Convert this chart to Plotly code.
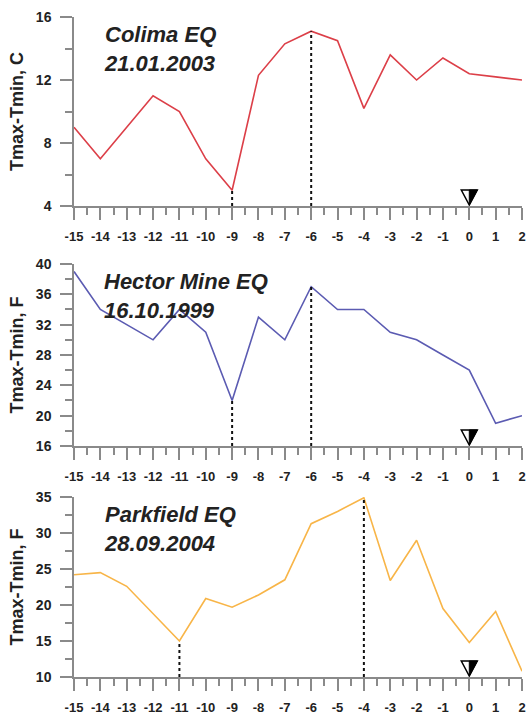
import plotly.graph_objects as go

days = list(range(-15, 3))
day_labels = [str(d) for d in days]
colima = [9, 7, 9, 11, 10, 7, 5, 12.3, 14.3, 15.1, 14.5, 10.2, 13.6, 12.0, 13.4, 12.4, 12.2, 12.0]
hector = [39, 34, 32, 30, 34, 31, 22, 33, 30, 37, 34, 34, 31, 30, 28, 26, 19, 20]
parkfield = [24.2, 24.5, 22.6, 18.8, 15.0, 20.9, 19.7, 21.4, 23.5, 31.3, 33.0, 34.9, 23.4, 29.0, 19.5, 14.8, 19.1, 10.8]

titles = ["Colima EQ<br>21.01.2003", "Hector Mine EQ<br>16.10.1999", "Parkfield EQ<br>28.09.2004"]
ylabels = ["Tmax-Tmin, C", "Tmax-Tmin, F", "Tmax-Tmin, F"]
yranges = [[4, 16], [16, 40], [10, 35]]
ydticks = [4, 4, 5]
marks = [[-9, -6], [-9, -6], [-11, -4]]
event_day = 0
colors = ["#dc3f48", "#5b5bb2", "#f8b548"]
series = [colima, hector, parkfield]

# panel domains (paper fraction, bottom->top)
domains = [[0.7136, 1.0], [0.35, 0.6258], [0.0, 0.2727]]

FONT = "Liberation Sans"
AXC = "#8a8a8a"
TXT = "#222222"

fig = go.Figure()
shapes = []
annotations = []

for i in range(3):
    xa = "x" if i == 0 else f"x{i+1}"
    ya = "y" if i == 0 else f"y{i+1}"
    fig.add_trace(go.Scatter(x=days, y=series[i], mode="lines",
                             line=dict(color=colors[i], width=1.6),
                             xaxis=xa, yaxis=ya, showlegend=False))
    for d in marks[i]:
        v = series[i][days.index(d)]
        fig.add_trace(go.Scatter(x=[d, d], y=[yranges[i][0], v], mode="lines",
                                 line=dict(color="#111111", width=2, dash="dot"),
                                 xaxis=xa, yaxis=ya, showlegend=False))
    # event triangle (half open / half filled)
    shapes.append(dict(type="path", xref=xa, yref=ya, xsizemode="pixel", ysizemode="pixel",
                       xanchor=event_day, yanchor=yranges[i][0],
                       path="M-8,16 L8,16 L0,1 Z", fillcolor="white",
                       line=dict(color="black", width=1.5), layer="above"))
    shapes.append(dict(type="path", xref=xa, yref=ya, xsizemode="pixel", ysizemode="pixel",
                       xanchor=event_day, yanchor=yranges[i][0],
                       path="M0,16 L8,16 L0,1 Z", fillcolor="black",
                       line=dict(color="black", width=1), layer="above"))
    annotations.append(dict(text="<b><i>" + titles[i] + "</i></b>", xref=f"{xa} domain", yref=f"{ya} domain",
                            x=0.062, y=0.985, xanchor="left", yanchor="top", align="left",
                            showarrow=False, font=dict(family=FONT, size=22, color=TXT)))

    xkey = "xaxis" if i == 0 else f"xaxis{i+1}"
    ykey = "yaxis" if i == 0 else f"yaxis{i+1}"
    fig.update_layout(**{
        xkey: dict(domain=[0, 1], anchor=ya, range=[-15, 2],
                   tickmode="array", tickvals=days, ticktext=day_labels,
                   showgrid=False, zeroline=False, showline=True, linecolor=AXC, linewidth=1.5,
                   ticks="outside", ticklen=12, tickwidth=1.5, tickcolor=AXC,
                   minor=dict(dtick=0.5, tick0=0, ticks="outside", ticklen=7, tickwidth=1.5, tickcolor=AXC),
                   tickfont=dict(family=FONT, size=13, color=TXT, weight="bold"),
                   ticklabelstandoff=6, automargin=False),
        ykey: dict(domain=domains[i], anchor=xa, range=yranges[i], dtick=ydticks[i], tick0=0,
                   showgrid=False, zeroline=False, showline=True, linecolor=AXC, linewidth=1.5,
                   ticks="outside", ticklen=12, tickwidth=1.5, tickcolor=AXC,
                   minor=dict(dtick=ydticks[i] / 2, tick0=0, ticks="outside", ticklen=7, tickwidth=1.5, tickcolor=AXC),
                   tickfont=dict(family=FONT, size=14, color=TXT, weight="bold"),
                   ticklabelstandoff=6, automargin=False,
                   title=dict(text=ylabels[i], standoff=8,
                              font=dict(family=FONT, size=18, color=TXT, weight="bold"))),
    })

fig.update_layout(width=532, height=715, margin=dict(l=74, r=10, t=17, b=38),
                  paper_bgcolor="white", plot_bgcolor="white",
                  shapes=shapes, annotations=annotations, showlegend=False)

fig.write_html("out.html")
